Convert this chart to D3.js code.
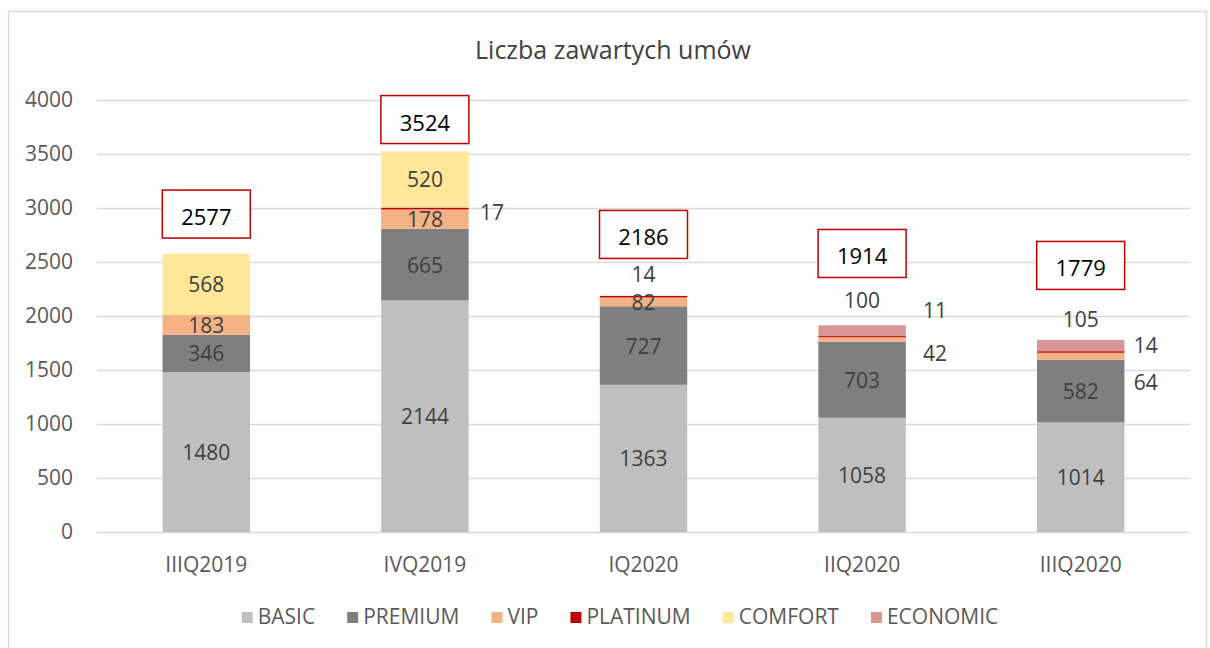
<!DOCTYPE html>
<html>
<head>
<meta charset="utf-8">
<script src="https://cdn.jsdelivr.net/npm/d3@7"></script>
<style>
  body { margin: 0; background: #fff; }
  svg { display: block; font-family: "Open Sans", "Noto Sans", sans-serif; }
</style>
</head>
<body>
<div id="chart"></div>
<script>
// Dane
const quarters = ['IIIQ2019', 'IVQ2019', 'IQ2020', 'IIQ2020', 'IIIQ2020'];
const seriesNames = ['BASIC', 'PREMIUM', 'VIP', 'PLATINUM', 'COMFORT', 'ECONOMIC'];
const basic    = [1480, 2144, 1363, 1058, 1014];
const premium  = [346, 665, 727, 703, 582];
const vip      = [183, 178, 82, 42, 64];
const platinum = [0, 17, 14, 11, 14];
const comfort  = [568, 520, 0, 0, 0];
const economic = [0, 0, 0, 100, 105];
const totals   = [2577, 3524, 2186, 1914, 1779];
const yTicks   = [0, 500, 1000, 1500, 2000, 2500, 3000, 3500, 4000];

const colors = ['#bfbfbf', '#7f7f7f', '#f4b183', '#c00000', '#ffe699', '#d99694'];

// Układ: położenie ramek z sumami (w jednostkach osi Y) i przesunięcia etykiet zewnętrznych
const totalBoxAt = [2944, 3819, 2755, 2579, 2468];
const outsideLabels = {
  '1-PLATINUM': [67, 4],
  '2-PLATINUM': [0, -23],
  '3-ECONOMIC': [0, -31],
  '3-PLATINUM': [73, -27],
  '3-VIP': [73, 13],
  '4-ECONOMIC': [0, -27],
  '4-PLATINUM': [65, -7],
  '4-VIP': [65, 26]
};

const W = 1210, H = 648;
const plot = { left: 97, right: 1190, top: 100, bottom: 532 };

const svg = d3.select('#chart').append('svg')
  .attr('width', W).attr('height', H);

// ramka
svg.append('rect')
  .attr('x', 8.5).attr('y', 11.5)
  .attr('width', 1198).attr('height', 660)
  .attr('fill', 'none').attr('stroke', '#d9d9d9').attr('stroke-width', 1.5);

const x = d3.scaleBand().domain(quarters)
  .range([plot.left, plot.right]).paddingInner(0.6).paddingOuter(0.3);
const y = d3.scaleLinear().domain([0, 4000]).range([plot.bottom, plot.top]);

// tytuł
svg.append('text')
  .attr('x', 613).attr('y', 59)
  .attr('text-anchor', 'middle')
  .style('font-size', '25px').style('fill', '#404040')
  .text('Liczba zawartych umów');

// siatka i oś Y
const yAxis = d3.axisLeft(y).tickValues(yTicks).tickFormat(d3.format('d'))
  .tickSize(-(plot.right - plot.left)).tickPadding(24);
const gy = svg.append('g').attr('transform', `translate(${plot.left},0)`).call(yAxis);
gy.select('.domain').remove();
gy.selectAll('.tick line').attr('stroke', '#d9d9d9').attr('stroke-width', 1.5);
gy.selectAll('.tick text')
  .style('font-size', '21px').style('fill', '#595959')
  .style('font-family', '"Open Sans", sans-serif');

// oś X
const xAxis = d3.axisBottom(x).tickSize(0).tickPadding(25);
const gx = svg.append('g').attr('transform', `translate(0,${plot.bottom})`).call(xAxis);
gx.select('.domain').remove();
gx.selectAll('.tick text')
  .style('font-size', '21px').style('fill', '#595959')
  .style('font-family', '"Open Sans", sans-serif');

// stos
const seriesValues = [basic, premium, vip, platinum, comfort, economic];
const table = quarters.map((q, i) => {
  const row = { quarter: q, idx: i };
  seriesNames.forEach((s, k) => { row[s] = seriesValues[k][i]; });
  return row;
});
const stacked = d3.stack().keys(seriesNames)(table);

const layers = svg.append('g').selectAll('g')
  .data(stacked).join('g')
  .attr('fill', (d, k) => colors[k]);

layers.selectAll('rect')
  .data(d => d.filter(p => p[1] - p[0] > 0))
  .join('rect')
  .attr('x', p => x(p.data.quarter))
  .attr('width', x.bandwidth())
  .attr('y', p => y(p[1]))
  .attr('height', p => y(p[0]) - y(p[1]));

// etykiety segmentów
const labelData = [];
stacked.forEach(layer => {
  layer.forEach(p => {
    const v = p[1] - p[0];
    if (v <= 0) return;
    const key = `${p.data.idx}-${layer.key}`;
    const off = outsideLabels[key] || [0, 0];
    labelData.push({
      v,
      cx: x(p.data.quarter) + x.bandwidth() / 2 + off[0],
      cy: y((p[0] + p[1]) / 2) + off[1]
    });
  });
});

svg.append('g').selectAll('text')
  .data(labelData).join('text')
  .attr('x', d => d.cx).attr('y', d => d.cy)
  .attr('text-anchor', 'middle')
  .attr('dominant-baseline', 'central')
  .style('font-size', '21px').style('fill', '#404040')
  .text(d => d.v);

// ramki z sumami
const boxW = 88, boxH = 48;
const boxes = svg.append('g').selectAll('g')
  .data(totals).join('g')
  .attr('transform', (d, i) => `translate(${x(quarters[i]) + x.bandwidth() / 2},${y(totalBoxAt[i])})`);
boxes.append('rect')
  .attr('x', -boxW / 2).attr('y', -boxH / 2)
  .attr('width', boxW).attr('height', boxH)
  .attr('fill', '#fff').attr('stroke', '#c00000').attr('stroke-width', 1.5);
boxes.append('text')
  .attr('text-anchor', 'middle').attr('dominant-baseline', 'central')
  .attr('y', 2)
  .style('font-size', '22px').style('fill', '#000')
  .text(d => d);

// legenda
const legend = svg.append('g');
const items = legend.selectAll('g').data(seriesNames).join('g');
items.append('rect')
  .attr('width', 11).attr('height', 11).attr('y', -12)
  .attr('fill', (d, k) => colors[k]);
items.append('text')
  .attr('x', 16).attr('y', 0)
  .style('font-size', '21px').style('fill', '#595959')
  .text(d => d);
let cursor = 0;
items.each(function () {
  const g = d3.select(this);
  g.attr('transform', `translate(${cursor},0)`);
  cursor += 16 + g.select('text').node().getComputedTextLength() + 32;
});
const legendWidth = cursor - 32;
legend.attr('transform', `translate(${620 - legendWidth / 2},624)`);
</script>
</body>
</html>
